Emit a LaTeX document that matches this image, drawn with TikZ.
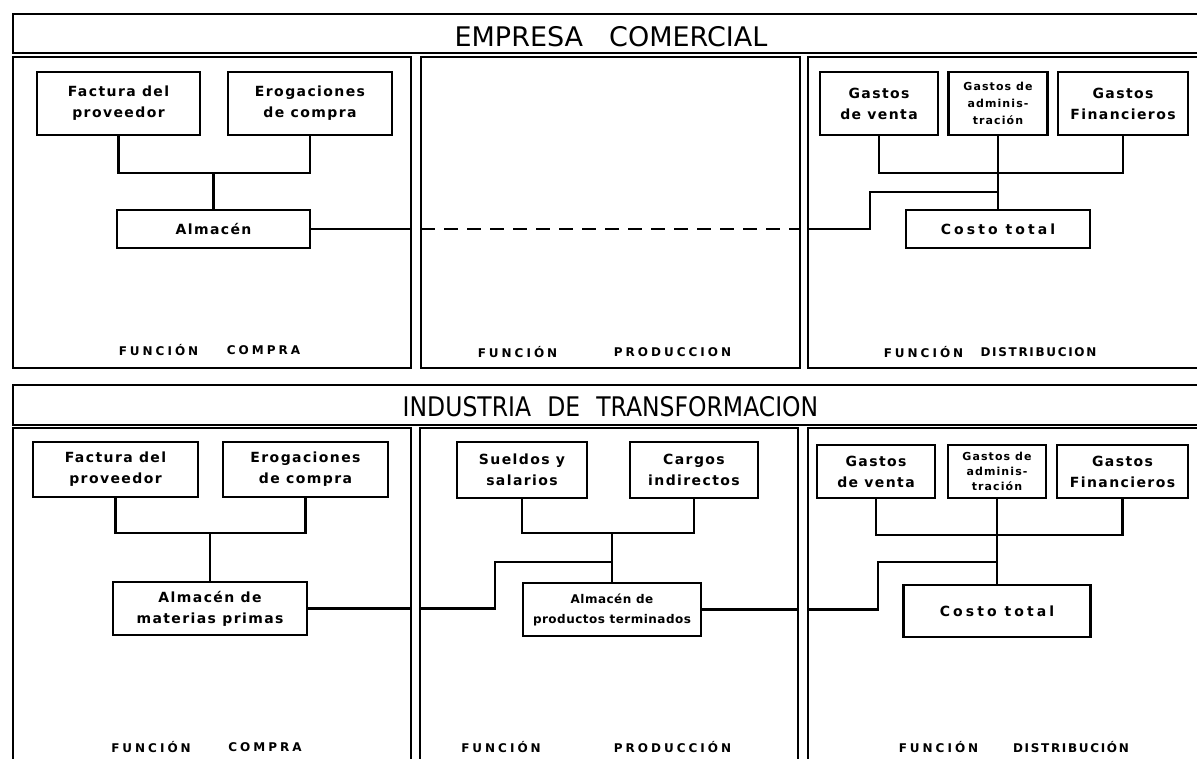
\documentclass[tikz,border=0pt]{standalone}
\usepackage{fontspec}
\usepackage{graphicx}
\setmainfont{DejaVu Sans}
\newfontfamily\boxfont[LetterSpace=10.0]{DejaVu Sans}
\newfontfamily\tightboxfont[LetterSpace=4.0]{DejaVu Sans}
\newfontfamily\wideboxfont[LetterSpace=22.0]{DejaVu Sans}
\newfontfamily\lblfont[LetterSpace=25.0]{DejaVu Sans}
\newfontfamily\lblnarrowfont[LetterSpace=14.0]{DejaVu Sans}
\usetikzlibrary{calc}
\begin{document}
\begin{tikzpicture}[x=1pt,y=-1pt,
  frame/.style={draw, line width=2.8pt, inner sep=0pt, outer sep=0pt},
  box/.style={draw, line width=2.6pt, inner sep=1pt, outer sep=0pt, align=center,
    font=\boxfont\bfseries\fontsize{14}{21}\selectfont},
  smallbox/.style={box, font=\boxfont\bfseries\fontsize{11}{17}\selectfont},
  conn/.style={line width=2.4pt},
  lbl/.style={inner sep=0pt, font=\lblfont\bfseries\fontsize{12}{14}\selectfont},
  ttl/.style={inner sep=0pt, font=\fontsize{27}{30}\selectfont}]
\useasboundingbox (0,0) rectangle (1197,759);
\fill[white] (0,0) rectangle (1197,759);
\clip (0,0) rectangle (1197,759);

% ---------- frames: EMPRESA COMERCIAL
\node[frame, minimum width=1202, minimum height=39] (B1) at (614,33.5) {};
\node[frame, minimum width=398, minimum height=311] (P1) at (212,212.5) {};
\node[frame, minimum width=379, minimum height=311] (P2) at (610.5,212.5) {};
\node[frame, minimum width=407, minimum height=311] (P3) at (1011.5,212.5) {};
% ---------- frames: INDUSTRIA DE TRANSFORMACION
\node[frame, minimum width=1202, minimum height=40] (B2) at (614,405) {};
\node[frame, minimum width=398, minimum height=347] (P4) at (212,601.5) {};
\node[frame, minimum width=378, minimum height=347] (P5) at (609,601.5) {};
\node[frame, minimum width=407, minimum height=347] (P6) at (1011.5,601.5) {};

% ---------- titles
\node[ttl] (T1) at (611,37) {EMPRESA\hspace{26pt}COMERCIAL};
\node[ttl] (T2) at (610.5,407) {\scalebox{0.87}[1]{INDUSTRIA\hspace{10pt} DE\hspace{10pt} TRANSFORMACION}};

% ---------- top boxes
\node[box, minimum width=163, minimum height=63] (fac) at (118.5,103.5) {Factura del\\proveedor};
\node[box, minimum width=164, minimum height=63] (ero) at (310,103.5) {Erogaciones\\de compra};
\node[box, minimum width=193, minimum height=38] (alm) at (213.5,229) {Almacén};
\node[box, minimum width=118, minimum height=63] (ven) at (879,103.5) {Gastos\\de venta};
\node[smallbox, minimum width=99, minimum height=63] (adm) at (998,103.5) {Gastos de\\adminis-\\tración};
\node[box, minimum width=130, minimum height=63] (fin) at (1123,103.5) {Gastos\\Financieros};
\node[box, minimum width=184, minimum height=38,
  font=\wideboxfont\bfseries\fontsize{14}{21}\selectfont] (cos) at (998,229) {Costo total};

% ---------- top connectors
\coordinate (j1) at ($(alm.north)+(0,-37)$);
\draw[conn] (fac.south) |- (j1) -| (ero.south);
\draw[conn] (j1) -- (alm.north);
\draw[conn] (alm.east) -- (alm.east -| P1.east);
\draw[conn, dash pattern=on 14pt off 9pt] (alm.east -| P2.west) -- (alm.east -| P2.east);
\coordinate (j2) at ($(cos.north)+(0,-37)$);
\draw[conn] (ven.south) |- (j2) -| (fin.south);
\draw[conn] (adm.south) -- (cos.north);
\coordinate (k1) at ($(cos.north)+(0,-18)$);
\draw[conn] (alm.east -| P3.west) -| ($(k1)+(-128,0)$) -- (k1);

% ---------- top labels
\node[lbl] (l1a) at (158.5,350) {FUNCIÓN};
\node[lbl] (l1b) at (263.5,350) {COMPRA};
\node[lbl] (l2a) at (517.5,352) {FUNCIÓN};
\node[lbl] (l2b) at (672.5,352) {PRODUCCION};
\node[lbl] (l3a) at (923.5,352) {FUNCIÓN};
\node[lbl, font=\lblnarrowfont\bfseries\fontsize{12}{14}\selectfont] (l3b) at (1038.5,352) {DISTRIBUCION};

% ---------- bottom boxes
\node[box, minimum width=165, minimum height=55] (fac2) at (115.5,469.5) {Factura del\\proveedor};
\node[box, minimum width=165, minimum height=55] (ero2) at (305.5,469.5) {Erogaciones\\de compra};
\node[box, minimum width=194, minimum height=53] (alm2) at (210,608.5) {Almacén de\\materias primas};
\node[box, minimum width=130, minimum height=56] (sue) at (522,470) {Sueldos y\\salarios};
\node[box, minimum width=128, minimum height=56] (car) at (694,470) {Cargos\\indirectos};
\node[box, minimum width=178, minimum height=53,
  font=\tightboxfont\bfseries\fontsize{12}{20}\selectfont] (apt) at (612,609.5) {Almacén de\\productos terminados};
\node[box, minimum width=118, minimum height=53] (ven2) at (876,471.5) {Gastos\\de venta};
\node[smallbox, minimum width=98, minimum height=53, font=\boxfont\bfseries\fontsize{11}{15}\selectfont] (adm2) at (997,471.5) {Gastos de\\adminis-\\tración};
\node[box, minimum width=131, minimum height=53] (fin2) at (1122.5,471.5) {Gastos\\Financieros};
\node[box, minimum width=187, minimum height=52,
  font=\wideboxfont\bfseries\fontsize{14}{21}\selectfont] (cos2) at (997,611) {Costo total};

% ---------- bottom connectors
\coordinate (j3) at ($(alm2.north)+(0,-49)$);
\draw[conn] (fac2.south) |- (j3) -| (ero2.south);
\draw[conn] (j3) -- (alm2.north);
\draw[conn] (alm2.east) -- (alm2.east -| P4.east);
\coordinate (j4) at ($(apt.north)+(0,-50)$);
\draw[conn] (sue.south) |- (j4) -| (car.south);
\draw[conn] (j4) -- (apt.north);
\coordinate (k2) at ($(apt.north)+(0,-21)$);
\draw[conn] (alm2.east -| P5.west) -| ($(k2)+(-117,0)$) -- (k2);
\draw[conn] (apt.east) -- (apt.east -| P5.east);
\coordinate (j5) at ($(cos2.north)+(0,-50)$);
\draw[conn] (ven2.south) |- (j5) -| (fin2.south);
\draw[conn] (adm2.south) -- (cos2.north);
\coordinate (k3) at ($(cos2.north)+(0,-23)$);
\draw[conn] (apt.east -| P6.west) -| ($(k3)+(-119,0)$) -- (k3);

% ---------- bottom labels
\node[lbl] (l4a) at (151,747) {FUNCIÓN};
\node[lbl] (l4b) at (265,747) {COMPRA};
\node[lbl] (l5a) at (501,747) {FUNCIÓN};
\node[lbl] (l5b) at (672.5,747) {PRODUCCIÓN};
\node[lbl] (l6a) at (938.5,747) {FUNCIÓN};
\node[lbl, font=\lblnarrowfont\bfseries\fontsize{12}{14}\selectfont] (l6b) at (1071,747) {DISTRIBUCIÓN};
\end{tikzpicture}
\end{document}
